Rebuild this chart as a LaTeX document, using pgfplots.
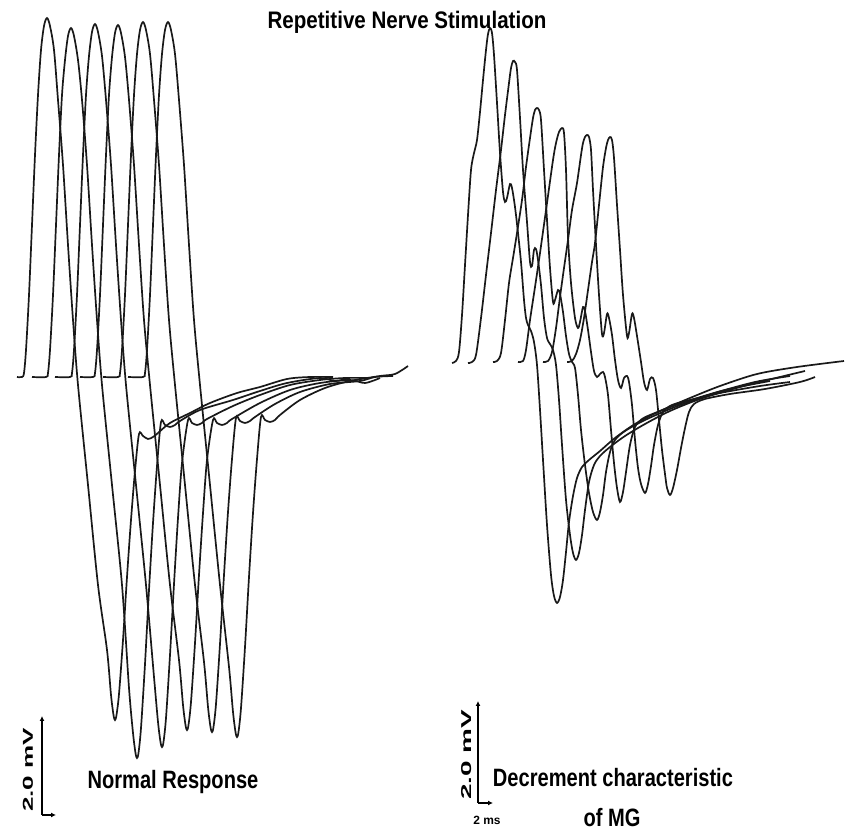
\documentclass[border=0pt]{standalone}
\usepackage{fontspec}
\setmainfont{Liberation Sans}
\newfontfamily\titlefont[FakeStretch=0.86]{Liberation Sans}
\newfontfamily\labfont[FakeStretch=0.8]{Liberation Sans}
\usepackage{pgfplots}
\pgfplotsset{compat=1.18}
\usetikzlibrary{arrows.meta}
\begin{document}
\begin{tikzpicture}
\begin{axis}[scale only axis, width=424bp, height=415bp,
  xmin=0, xmax=848, ymin=0, ymax=830, y dir=reverse,
  hide axis, clip=false,
  trace/.style={black!90, line width=0.85bp, smooth, tension=0.5, no marks}]
\path (rel axis cs:0,0) rectangle (rel axis cs:1,1);
% ---------------- Left panel: normal response ----------------
\addplot[trace] coordinates {(17,377) (22,377) (24,373) (26,350) (29,295) (32,225) (35,155) (38,95) (41,50) (44,26) (47,18) (50,26) (54,50) (58,100) (63,165) (68,245) (73,320) (78,385) (88,485) (98,585) (107,650) (111,695) (113.5,715) (115,720) (116.5,715) (119,694) (123,640) (127,577) (131,520) (135,471) (139,434) (143,436) (148,439) (153,437) (158,433) (170,423) (190,413) (210,403) (237,393) (260,387) (287,379) (310,377) (333,377)};
\addplot[trace] coordinates {(32,377) (46,377) (48,373) (50,350) (53,295) (56,225) (59,155) (62,95) (65,60) (68,36) (71,28) (74,36) (78,60) (82,100) (87,165) (92,245) (97,320) (102,385) (112,485) (122,585) (129,688) (133,733) (135.5,753) (137,758) (138.5,753) (141,728) (145,664) (149,590) (153,523) (157,466) (161,422) (165,425) (170,427) (175,425) (180,421) (200,410) (233,400) (260,391) (287,383) (320,378) (335,381) (350,378)};
\addplot[trace] coordinates {(55,377) (70,377) (72,373) (74,350) (77,295) (80,225) (83,155) (86,95) (89,56) (92,32) (95,24) (98,32) (102,56) (106,100) (111,165) (116,245) (121,320) (126,385) (136,485) (146,585) (154,677) (158,722) (160.5,742) (162,747) (163.5,742) (166,718) (170,655) (174,584) (178,518) (182,463) (188,420) (192,423) (197,425) (202,423) (207,419) (233,406) (260,395) (290,385) (320,380) (345,378) (367,378)};
\addplot[trace] coordinates {(80,377) (93,377) (95,373) (97,350) (100,295) (103,225) (106,155) (109,95) (112,57) (115,33) (118,25) (121,33) (125,57) (129,100) (134,165) (139,245) (144,320) (150,385) (160,485) (170,585) (179,660) (183,705) (185.5,725) (187,730) (188.5,725) (191,702) (195,643) (199,575) (203,513) (207,460) (213,420) (217,423) (222,425) (227,423) (232,419) (260,403) (290,390) (320,383) (350,380) (365,383) (380,378)};
\addplot[trace] coordinates {(103,377) (118,377) (120,373) (122,350) (125,295) (128,225) (131,155) (134,95) (137,54) (140,30) (143,22) (146,30) (150,54) (154,100) (159,165) (164,245) (169,320) (175,385) (185,485) (195,585) (204,662) (208,707) (210.5,727) (212,732) (213.5,727) (216,704) (220,644) (224,575) (228,512) (232,459) (236,418) (240,421) (245,423) (250,421) (255,417) (275,404) (300,392) (330,384) (360,381) (375,377) (393,376)};
\addplot[trace] coordinates {(128,377) (143,377) (145,373) (147,350) (150,295) (153,225) (156,155) (159,95) (162,54) (165,30) (168,22) (171,30) (175,54) (179,100) (184,165) (189,245) (194,320) (200,385) (210,485) (220,585) (229,667) (233,712) (235.5,732) (237,737) (238.5,732) (241,708) (245,647) (249,577) (253,513) (257,459) (261,417) (265,420) (270,422) (275,420) (280,415) (300,400) (325,388) (350,381) (380,376) (395,374) (408,366)};
% ---------------- Right panel: decrement ----------------
\addplot[trace] coordinates {(452,363) (456,361) (459,352) (462,315) (465,265) (468,215) (471,170) (474,153) (477,140) (480,112) (483,80) (486,50) (488,34) (490,28) (492,33) (494,55) (497,103) (500,153) (503,192) (505,202) (507,198) (510,184) (512,188) (515,207) (518,233) (521,262) (524,300) (526,318) (528,325) (531,331) (534,342) (537,365) (540,410) (543,460) (547,525) (551,575) (554,596) (557,603) (560,597) (563,580) (566,552) (569,522) (573,496) (577,478) (582,467) (589,460) (600,451) (615,438) (635,424) (660,411) (690,398) (720,386) (757,374) (797,367) (844,361)};
\addplot[trace] coordinates {(468,363) (472,362) (476,355) (481,318) (486,275) (491,233) (496,190) (501,150) (505,115) (509,83) (511,68) (513,61) (515,62) (517,70) (520,118) (523,170) (527,222) (530,262) (532,266) (534,250) (536,249) (538,260) (541,285) (544,318) (547,338) (550,344) (553,350) (556,365) (559,400) (562,445) (566,500) (570,535) (573,553) (576,560) (579,553) (582,535) (585,510) (589,482) (594,465) (600,456) (610,447) (625,436) (645,424) (670,411) (700,399) (740,387) (780,377) (805,371)};
\addplot[trace] coordinates {(493,362) (497,361) (501,353) (505,320) (509,283) (513,258) (517,233) (522,200) (526,167) (530,138) (533,118) (535,110) (537,108) (539,110) (541,120) (544,170) (547,220) (550,268) (553,302) (555,300) (558,290) (560,294) (563,312) (566,336) (569,354) (572,362) (575,368) (578,395) (581,430) (585,465) (589,493) (593,512) (597,520) (600,512) (603,495) (606,472) (610,452) (615,440) (625,431) (645,420) (675,407) (715,393) (755,382) (790,376)};
\addplot[trace] coordinates {(518,362) (523,361) (526,350) (530,320) (535,287) (540,253) (547,203) (553,160) (556,143) (559,132) (562,128) (564,133) (566,170) (568,237) (571,283) (575,318) (578,328) (580,322) (583,307) (585,311) (588,330) (591,352) (594,371) (597,377) (600,374) (603,372) (605,377) (608,395) (611,430) (614,463) (617,488) (620,502) (623,492) (626,472) (630,445) (635,427) (642,419) (655,413) (685,402) (725,390) (770,381)};
\addplot[trace] coordinates {(543,362) (548,361) (552,352) (556,328) (560,297) (564,268) (568,240) (572,210) (577,183) (581,155) (583,143) (585,137) (587,135) (589,137) (591,150) (593,190) (596,245) (599,295) (602,334) (604,333) (607,314) (609,318) (612,335) (615,360) (618,380) (621,388) (624,378) (627,376) (629,382) (632,405) (635,440) (638,468) (641,484) (645,493) (648,484) (651,466) (654,445) (658,425) (663,412) (672,405) (690,400) (720,393) (760,386) (790,382)};
\addplot[trace] coordinates {(567,362) (572,361) (576,354) (580,340) (584,318) (588,290) (592,262) (595,243) (599,205) (603,167) (606,148) (608,140) (610,137) (612,140) (614,158) (617,205) (620,250) (623,295) (627,336) (629,333) (632,314) (634,318) (637,336) (641,362) (644,382) (647,390) (650,379) (653,378) (656,390) (659,420) (662,450) (665,474) (667,488) (670,495) (673,488) (677,470) (681,448) (685,428) (689,412) (694,404) (705,399) (730,394) (765,389) (800,382) (815,377)};
% ---------------- Scale bars ----------------
\draw[black, line width=0.8bp, -{Latex[length=2.5bp,width=2.5bp]}] (axis cs:42,815) -- (axis cs:42,716);
\draw[black, line width=0.8bp, -{Latex[length=2.5bp,width=2.5bp]}] (axis cs:42,815) -- (axis cs:56,815);
\draw[black, line width=0.8bp, -{Latex[length=2.5bp,width=2.5bp]}] (axis cs:478,803) -- (axis cs:478,701);
\draw[black, line width=0.8bp, -{Latex[length=2.5bp,width=2.5bp]}] (axis cs:478,803) -- (axis cs:493,803);
\node[rotate=90, inner sep=0pt] at (axis cs:28,770) {\resizebox{42bp}{5bp}{\bfseries 2.0 mV}};
\node[rotate=90, inner sep=0pt] at (axis cs:467,755) {\resizebox{45bp}{5bp}{\bfseries 2.0 mV}};
\node[inner sep=0pt] at (axis cs:487,820) {\bfseries\fontsize{6}{7}\selectfont 2 ms};
% ---------------- Texts ----------------
\node[inner sep=0pt] at (axis cs:407,22) {\titlefont\bfseries\fontsize{12}{14}\selectfont Repetitive Nerve Stimulation};
\node[inner sep=0pt] at (axis cs:173,782) {\labfont\bfseries\fontsize{12.6}{15}\selectfont Normal Response};
\node[inner sep=0pt] at (axis cs:613,778) {\labfont\bfseries\fontsize{12.6}{15}\selectfont Decrement characteristic};
\node[inner sep=0pt] at (axis cs:612,818) {\labfont\bfseries\fontsize{12.6}{15}\selectfont of MG};
\end{axis}
\end{tikzpicture}
\end{document}
